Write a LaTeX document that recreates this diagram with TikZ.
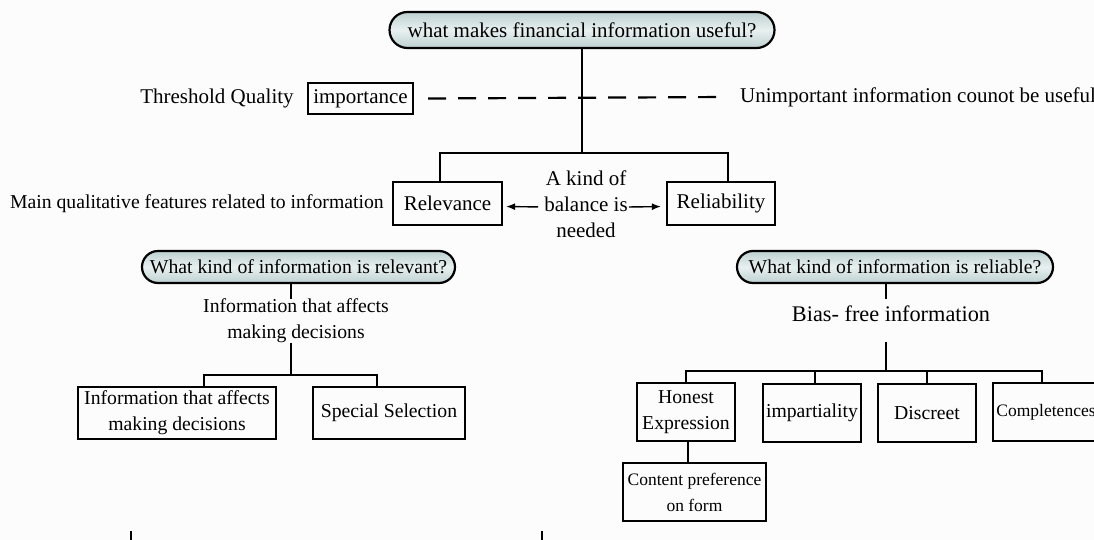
\documentclass[tikz,border=0pt]{standalone}
\usepackage{fontspec}
\setmainfont{Liberation Serif}
\usepackage{tikz}
\usetikzlibrary{arrows.meta,positioning,calc}
\definecolor{qedge}{RGB}{190,208,208}
\definecolor{qmid}{RGB}{232,240,240}
\definecolor{bgcol}{RGB}{252,252,252}
\newcommand{\bigtxt}{\fontsize{21}{26}\selectfont}
\newcommand{\midtxt}{\fontsize{19.7}{26}\selectfont}
\newcommand{\smalltxt}{\fontsize{17.5}{26}\selectfont}
\newcommand{\biastxt}{\fontsize{22.3}{26}\selectfont}
\tikzstyle{box}=[draw, line width=2.2pt, inner sep=0pt]
\tikzstyle{ques}=[draw, line width=2.2pt, inner sep=0pt, rounded corners=16pt, minimum height=32pt, top color=qedge, bottom color=qedge, middle color=qmid]
\tikzstyle{lbl}=[inner sep=0pt]
\tikzstyle{conn}=[line width=2.6pt]
\tikzstyle{bal}=[->, line width=1.4pt]

\begin{document}
\begin{tikzpicture}[x=1pt,y=-1pt,every text node part/.style={align=center},>={Latex[length=9pt,width=7pt]}]
      \useasboundingbox (0,0) rectangle (1094,540);
      \clip (0,0) rectangle (1094,540);
      \fill [bgcol] (0,0) rectangle (1094,540);

      % top question and threshold
      \node [ques, rounded corners=18pt, minimum width=385pt, minimum height=36pt, font=\bigtxt] (q) at (582,30) {what makes financial information useful?};
      \node [box, minimum width=105pt, minimum height=31pt, font=\bigtxt] (imp) at (360.5,98.5) {importance};
      \node [lbl, font=\bigtxt, left=13pt of imp] (thr) {Threshold Quality};
      \node [lbl, font=\bigtxt, anchor=west] (unimp) at (740,97) {Unimportant information counot be useful};
      \draw [conn, line width=2.2pt, dash pattern=on 18pt off 12pt] ([xshift=14pt]imp.east) -- ([xshift=-13pt]unimp.west);

      % main features
      \coordinate (j1) at (582,153);
      \node [box, minimum width=109pt, minimum height=43pt, font=\bigtxt] (rel) at (447.5,203.5) {Relevance};
      \node [box, minimum width=108pt, minimum height=43pt, font=\bigtxt] (rb) at (721,203.5) {Reliability};
      \node [lbl, font=\midtxt, left=8pt of rel] (main) {Main qualitative features related to information};
      \node [lbl, font=\bigtxt] (bal) at (586,204) {A kind of\\balance is\\needed};
      \draw [conn] (q) -- (j1);
      \draw [conn] ([xshift=-7.5pt]rel.north) |- (j1) -| ([xshift=7pt]rb.north);
      \draw [bal, shorten <=6pt, shorten >=3pt] ([yshift=-3pt]bal.west) -- ([yshift=-3pt]rel.east);
      \draw [bal, shorten <=1pt, shorten >=5pt] ([yshift=-3pt]bal.east) -- ([yshift=-3pt]rb.west);

      % relevance branch
      \node [ques, minimum width=313pt, font=\midtxt] (qrel) at (298.5,267) {What kind of information is relevant?};
      \node [lbl, font=\midtxt] (aff) at (296,321) {Information that affects\\making decisions};
      \coordinate (j2) at (291,375);
      \node [box, minimum width=198pt, minimum height=52pt, font=\midtxt] (b1) at (177,413) {Information that affects\\making decisions};
      \node [box, minimum width=152pt, minimum height=52pt, font=\midtxt] (b2) at (389,413) {Special Selection};
      \draw [conn] ([xshift=-5pt]aff.north |- qrel.south) -- ([xshift=-5pt]aff.north);
      \draw [conn] ([xshift=-5pt]aff.south) -- (j2);
      \draw [conn] ([xshift=27pt]b1.north) |- (j2) -| ([xshift=-12pt]b2.north);

      % reliability branch
      \node [ques, minimum width=316pt, font=\midtxt] (qrl) at (895,267) {What kind of information is reliable?};
      \node [lbl, font=\biastxt, text height=22pt, text depth=21pt] (bias) at (891,320.5) {Bias- free information};
      \coordinate (j3) at (886,371);
      \node [box, minimum width=98pt, minimum height=58pt, font=\midtxt] (hon) at (686,412) {Honest\\Expression};
      \node [box, minimum width=98pt, minimum height=58pt, font=\midtxt] (imp2) at (812,413) {impartiality};
      \node [box, minimum width=98pt, minimum height=58pt, font=\midtxt] (dis) at (927,413) {Discreet};
      \node [box, minimum width=106pt, minimum height=58pt, font=\smalltxt] (com) at (1046,412) {Completences};
      \node [box, minimum width=143pt, minimum height=58pt, font=\smalltxt] (cnt) at (694.5,492) {Content preference\\on form};
      \draw [conn] ([xshift=-5pt]bias.north |- qrl.south) -- ([xshift=-5pt]bias.north);
      \draw [conn] ([xshift=-5pt]bias.south) -- (j3);
      \draw [conn] (hon.north) |- (j3) -| ([xshift=-4pt]com.north);
      \draw [conn] ([xshift=3pt]imp2.north) -- ([xshift=3pt]imp2.north |- j3);
      \draw [conn] (dis.north) -- (dis.north |- j3);
      \draw [conn] ([xshift=2pt]hon.south) -- ([xshift=2pt]hon.south |- cnt.north);

      % cut-off links at the bottom
      \coordinate (t1) at (131,531);
      \coordinate (t2) at (542,531);
      \draw [line width=1.8pt] (t1) -- ++(0,12);
      \draw [line width=1.8pt] (t2) -- ++(0,12);
\end{tikzpicture}
\end{document}
